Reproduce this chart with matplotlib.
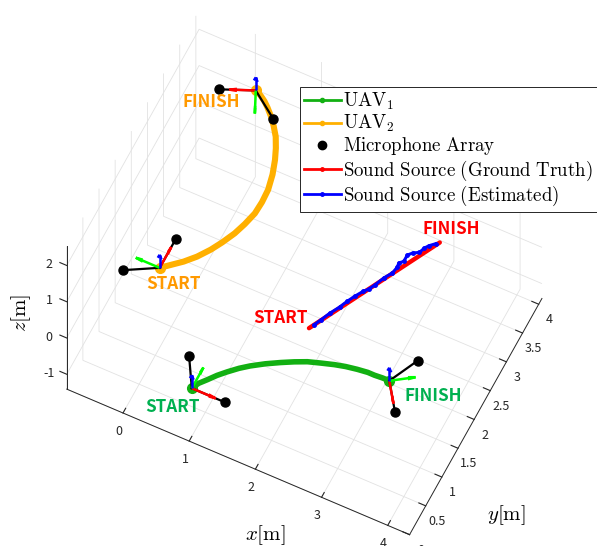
import numpy as np
import matplotlib
matplotlib.use("Agg")
import matplotlib.pyplot as plt
from matplotlib.lines import Line2D
from matplotlib.ticker import FuncFormatter
from mpl_toolkits.mplot3d import proj3d

W, H, DPI = 597, 546, 100

# ---- data (metres) ----
# UAV 1 flies at z = 0, UAV 2 at z = 2
uav1_x = [1.02, 1.07, 1.15, 1.24, 1.34, 1.46, 1.58, 1.75, 1.93, 2.09,
          2.25, 2.42, 2.60, 2.75, 2.91, 3.06, 3.16, 3.28, 3.38]
uav1_y = [0.04, 0.15, 0.25, 0.37, 0.48, 0.60, 0.70, 0.82, 0.93, 1.02,
          1.10, 1.16, 1.22, 1.26, 1.29, 1.31, 1.31, 1.32, 1.32]
uav1_z = [0.0] * 19

uav2_x = [0.30, 0.43, 0.55, 0.68, 0.80, 0.89, 0.98, 1.04, 1.09, 1.10, 1.09,
          1.04, 0.97, 0.90, 0.82, 0.72, 0.62, 0.52, 0.44, 0.35, 0.26]
uav2_y = [0.52, 0.64, 0.75, 0.90, 1.08, 1.25, 1.45, 1.64, 1.85, 2.05, 2.26,
          2.50, 2.72, 2.89, 3.05, 3.19, 3.31, 3.41, 3.48, 3.54, 3.58]
uav2_z = [2.0] * 21

# sound source: ground truth (straight line) and estimate
src_true_x = [2.04, 3.05]
src_true_y = [1.58, 3.56]
src_true_z = [0.0, 0.0]

src_est_x = [2.08, 2.13, 2.19, 2.27, 2.32, 2.38, 2.45, 2.50, 2.55, 2.61,
             2.68, 2.70, 2.69, 2.74, 2.74, 2.79, 2.87, 2.90, 2.94, 3.01]
src_est_y = [1.66, 1.77, 1.91, 2.06, 2.18, 2.30, 2.42, 2.48, 2.58, 2.73,
             2.85, 2.96, 3.03, 3.08, 3.19, 3.25, 3.30, 3.39, 3.45, 3.52]
src_est_z = [0.0] * 20

# body frames drawn at start / finish of each UAV
frame_x = [1.02, 3.38, 0.30, 0.26]
frame_y = [0.04, 1.32, 0.52, 3.58]
frame_z = [0.0, 0.0, 2.0, 2.0]
frame_yaw = [0, -55, 90, -156]          # heading of body x-axis, deg
mic_body_x = [0.50, -0.25]               # microphone offsets in body frame
mic_body_y = [0.00, 0.43]
arrow_len = 0.36

# START / FINISH annotations
label_text = ["START", "FINISH", "START", "FINISH", "START", "FINISH"]
label_x = [0.91, 4.02, 0.58, -0.20, 1.62, 3.10]
label_y = [-0.34, 1.37, 0.38, 3.15, 1.55, 3.82]
label_z = [0.0, 0.0, 2.0, 2.0, 0.0, 0.0]
label_color = ["#00b050", "#00b050", "#ff9900", "#ff9900", "#ff0000", "#ff0000"]

XLIM = (-0.85, 4.33)
YLIM = (0.0, 4.1)
ZLIM = (-1.41, 2.53)
x_ticks = [0, 1, 2, 3, 4]
y_ticks = [0, 0.5, 1, 1.5, 2, 2.5, 3, 3.5, 4]
z_ticks = [-1, 0, 1, 2]

C_UAV1 = "#12b012"
C_UAV2 = "#ffb000"

plt.rcParams["font.family"] = ["Noto Sans CJK JP", "DejaVu Sans"]
plt.rcParams["mathtext.fontset"] = "cm"
plt.rcParams["axes.edgecolor"] = "#262626"
plt.rcParams["axes.linewidth"] = 0.7
plt.rcParams["grid.color"] = "#e2e2e2"
plt.rcParams["grid.linewidth"] = 0.6
for k in ("xtick", "ytick"):
    plt.rcParams[f"{k}.color"] = "#262626"
    plt.rcParams[f"{k}.labelsize"] = 9
    plt.rcParams[f"{k}.major.pad"] = -1.5

fig = plt.figure(figsize=(W / DPI, H / DPI), dpi=DPI)
ax = fig.add_axes([0, 0, 1, 1], projection="3d", computed_zorder=False)
ax.set_proj_type("ortho")
ax.view_init(elev=60.5, azim=-64)
ax.set_xlim(*XLIM)
ax.set_ylim(*YLIM)
ax.set_zlim(*ZLIM)
aspect = (XLIM[1] - XLIM[0], YLIM[1] - YLIM[0], ZLIM[1] - ZLIM[0])
ax.set_box_aspect(aspect)

fmt = FuncFormatter(lambda v, _p: f"{v:g}")
ax.set_xticks(x_ticks)
ax.set_yticks(y_ticks)
ax.set_zticks(z_ticks)
for axis in (ax.xaxis, ax.yaxis, ax.zaxis):
    axis.set_major_formatter(fmt)
    axis.set_pane_color((1, 1, 1, 0))
    axis._axinfo["tick"]["inward_factor"] = 0.0
    axis._axinfo["tick"]["outward_factor"] = 0.25
# MATLAB keeps the z axis on the near-left corner, ticks and labels off to -x
ax.zaxis.set_ticks_position("lower")
ax.zaxis._get_tickdir = lambda position: 0
ax.zaxis._axmask = lambda: [True, False, False]
ax.zaxis.set_tick_params(pad=2.5)

# trajectories
ax.plot(uav1_x, uav1_y, uav1_z, color=C_UAV1, lw=4.0, solid_capstyle="round", zorder=2)
ax.plot(uav2_x, uav2_y, uav2_z, color=C_UAV2, lw=4.4, solid_capstyle="round", zorder=2)
ax.plot(uav1_x[::len(uav1_x) - 1], uav1_y[::len(uav1_y) - 1], uav1_z[::len(uav1_z) - 1],
        "o", color=C_UAV1, ms=7, zorder=2)
ax.plot(uav2_x[::len(uav2_x) - 1], uav2_y[::len(uav2_y) - 1], uav2_z[::len(uav2_z) - 1],
        "o", color=C_UAV2, ms=7, zorder=2)
ax.plot(src_true_x, src_true_y, src_true_z, color="#ff0000", lw=3.2,
        solid_capstyle="round", zorder=3)
ax.plot(src_est_x, src_est_y, src_est_z, color="#0000ff", lw=2.2, marker=".",
        ms=5, zorder=3)

# microphone arrays and body axes
for cx, cy, cz, yaw in zip(frame_x, frame_y, frame_z, frame_yaw):
    c, s = np.cos(np.radians(yaw)), np.sin(np.radians(yaw))
    bx_dir = np.array([c, s, 0.0])
    by_dir = np.array([-s, c, 0.0])
    bz_dir = np.array([0.0, 0.0, 1.0])
    centre = np.array([cx, cy, cz])
    for mx, my in zip(mic_body_x, mic_body_y):
        m = centre + mx * bx_dir + my * by_dir
        ax.plot([cx, m[0]], [cy, m[1]], [cz, m[2]], color="k", lw=1.6, zorder=4)
        ax.plot([m[0]], [m[1]], [m[2]], "o", color="k", ms=6.5, zorder=6)
    for vec, col in ((bx_dir, "#ff0000"), (by_dir, "#00ff00"), (bz_dir, "#0000ff")):
        d = vec * arrow_len
        ax.quiver(cx, cy, cz, d[0], d[1], d[2], color=col, lw=1.8,
                  arrow_length_ratio=0.3, zorder=5)

for t, lx, ly, lz, col in zip(label_text, label_x, label_y, label_z, label_color):
    ax.text(lx, ly, lz, t, color=col, fontsize=12.3, fontweight="bold",
            ha="center", va="center", zorder=7)

# axis labels sit where MATLAB put them
fig.text(0.444, 0.020, r"$x[\mathrm{m}]$", fontsize=15, ha="center", va="center")
fig.text(0.848, 0.057, r"$y[\mathrm{m}]$", fontsize=15, ha="center", va="center")
fig.text(0.035, 0.427, r"$z[\mathrm{m}]$", fontsize=15, ha="center", va="center",
         rotation=90)

handles = [
    Line2D([], [], color=C_UAV1, lw=2, marker=".", ms=6),
    Line2D([], [], color=C_UAV2, lw=2, marker=".", ms=6),
    Line2D([], [], color="k", ls="none", marker="o", ms=6),
    Line2D([], [], color="#ff0000", lw=2, marker=".", ms=5),
    Line2D([], [], color="#0000ff", lw=2, marker=".", ms=5),
]
labels = [r"$\mathrm{UAV}_1$", r"$\mathrm{UAV}_2$", r"$\mathrm{Microphone\ Array}$",
          r"$\mathrm{Sound\ Source\ (Ground\ Truth)}$",
          r"$\mathrm{Sound\ Source\ (Estimated)}$"]
leg = ax.legend(handles, labels, loc="upper left", bbox_to_anchor=(300 / W, 1 - 87 / H),
                bbox_transform=fig.transFigure, borderaxespad=0, fontsize=13.6,
                fancybox=False, framealpha=1, edgecolor="#262626",
                handlelength=1.95, handletextpad=0.15, borderpad=0.2, labelspacing=0.06)
leg.get_frame().set_linewidth(0.7)
leg.set_zorder(10)


def project(x, y, z):
    xs, ys, _ = proj3d.proj_transform(np.atleast_1d(x), np.atleast_1d(y),
                                      np.atleast_1d(z), ax.get_proj())
    return ax.transData.transform(np.column_stack([xs, ys]))


# scale the box so one metre along x spans ~72 px, then put the origin corner
# where it sits in the original figure
fig.canvas.draw()
p = project([0, 4], [0, 0], [ZLIM[0], ZLIM[0]])
cur = np.hypot(*(p[1] - p[0])) / 4
ax.set_box_aspect(aspect, zoom=71.9 / cur)
fig.canvas.draw()
p0 = project([0], [0], [ZLIM[0]])[0]
ax.set_position([(123 - p0[0]) / W, ((H - 413) - p0[1]) / H, 1, 1])

fig.savefig("out.png", dpi=DPI)
